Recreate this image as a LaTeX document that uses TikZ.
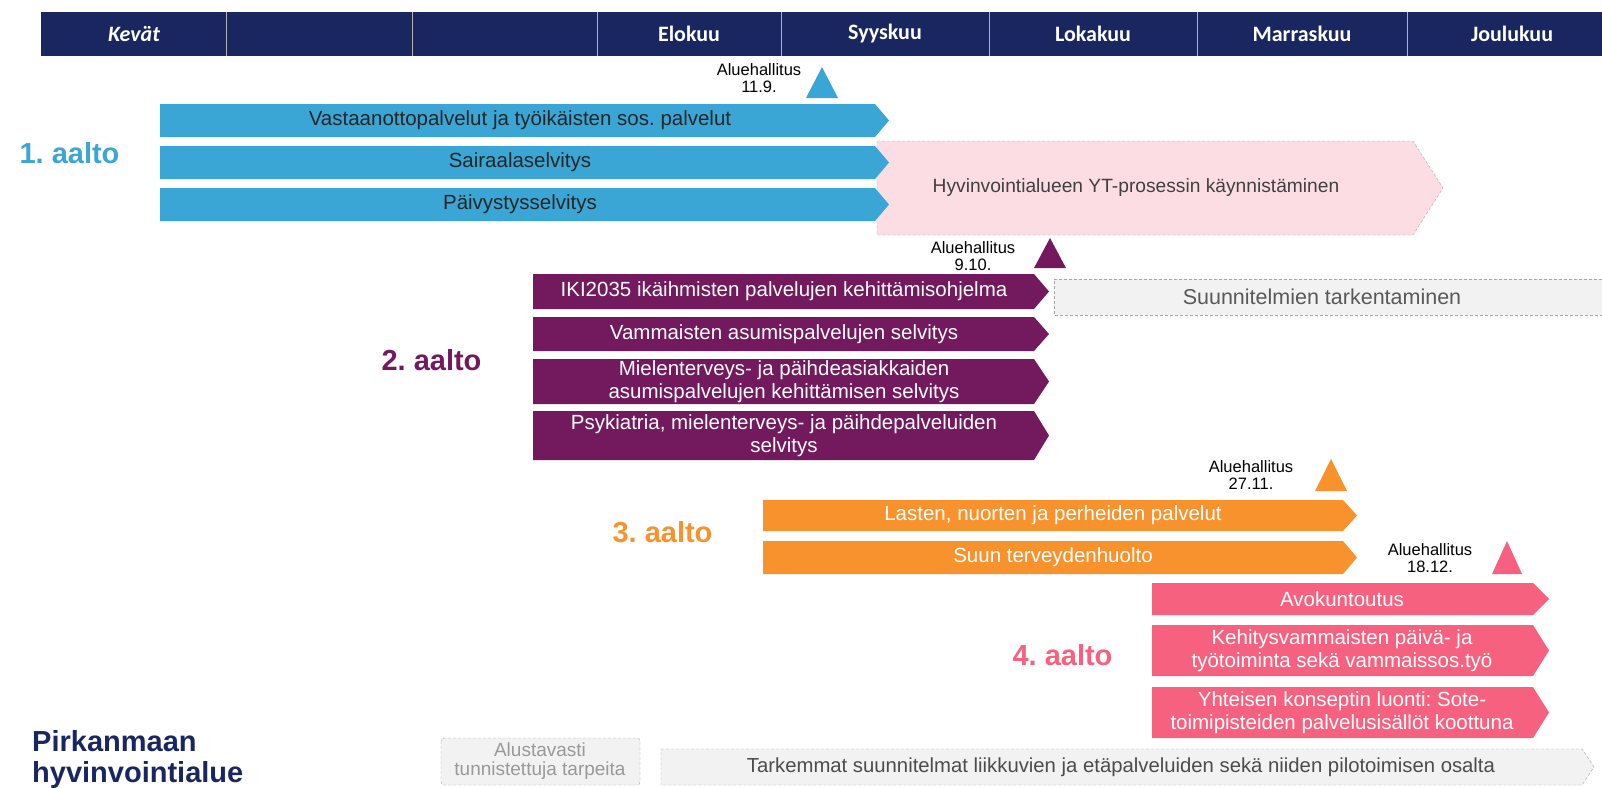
\documentclass[tikz,border=0pt]{standalone}
\usepackage{fontspec}
\setmainfont{Liberation Sans}[BoldFont={Liberation Sans Bold}]
\newfontfamily\headfont{Carlito}
\newfontfamily\heavyfont{Liberation Sans Bold}
\usepackage{tikz}
\usetikzlibrary{positioning}

\definecolor{navy}{HTML}{1A2660}
\definecolor{aaltoA}{HTML}{3AA6D5}
\definecolor{aaltoB}{HTML}{73195E}
\definecolor{aaltoC}{HTML}{F8922C}
\definecolor{aaltoD}{HTML}{F5617F}
\definecolor{ytpink}{HTML}{FDDDE4}
\definecolor{planfill}{HTML}{F2F2F2}

\begin{document}
\frenchspacing
\begin{tikzpicture}[x=1pt, y=-1pt,
    head/.style={text=white, font=\headfont\bfseries\fontsize{22}{24}\selectfont},
    bartext/.style={text=white, align=center, font=\fontsize{20.5}{23}\selectfont},
    wave/.style={anchor=west, font=\heavyfont\fontsize{29}{33}\selectfont},
    board/.style={align=center, inner sep=0pt, font=\fontsize{16.5}{17}\selectfont},
    plan/.style={draw=gray!70, densely dashed, thin}]

    \useasboundingbox (0,0) rectangle (1602,787);

    % header with months
    \fill[navy] (41,12) rectangle (1602,56);
    \foreach \x in {226,412,597,781,989,1197,1407}
        \draw[gray!60, thin] (\x,12) -- (\x,56);
    \node[head, font=\headfont\bfseries\itshape\fontsize{22}{24}\selectfont] (kevat) at (134,34) {Kevät};
    \foreach \x/\m in {689/Elokuu, 885/Syyskuu, 1093/Lokakuu, 1302/Marraskuu, 1512/Joulukuu}
        \node[head] (\m) at (\x,34) {\m};

    % YT-process (behind the first wave)
    \filldraw[plan, fill=ytpink] (877,141) -- (1413,141) -- (1443,188) -- (1413,235) -- (877,235) -- cycle;
    \node[text=black!75, font=\fontsize{19.2}{22}\selectfont] (yt) at (1136,188) {Hyvinvointialueen YT-prosessin käynnistäminen};

    % 1. aalto
    \node[board] (ah1) at (759,78) {Aluehallitus\\11.9.};
    \fill[aaltoA] (806,98) -- (822,67) -- (838,98) -- cycle;
    \foreach \n/\ya/\yb/\txt in {1/104/137/{Vastaanottopalvelut ja työikäisten sos. palvelut},
                                 2/146/179/{Sairaalaselvitys},
                                 3/188/221/{Päivystysselvitys}}{
        \fill[aaltoA] (160,\ya) -- (875,\ya) -- (889,{(\ya+\yb)/2}) -- (875,\yb) -- (160,\yb) -- cycle;
        \node[bartext, text=black!85] (w1b\n) at (520,{(\ya+\yb)/2}) {\txt};
    }
    \node[wave, text=aaltoA] (w1) at (16,153) {1. aalto};

    % 2. aalto
    \node[board] (ah2) at (973,256) {Aluehallitus\\9.10.};
    \fill[aaltoB] (1034,268) -- (1050,238) -- (1066,268) -- cycle;
    \foreach \n/\ya/\yb/\txt in {1/274/309/{IKI2035 ikäihmisten palvelujen kehittämisohjelma},
                                 2/317/351/{Vammaisten asumispalvelujen selvitys},
                                 3/359/404/{Mielenterveys- ja päihdeasiakkaiden\\asumispalvelujen kehittämisen selvitys},
                                 4/411/460/{Psykiatria, mielenterveys- ja päihdepalveluiden\\selvitys}}{
        \fill[aaltoB] (533,\ya) -- (1034,\ya) -- (1049,{(\ya+\yb)/2}) -- (1034,\yb) -- (533,\yb) -- cycle;
        \node[bartext] (w2b\n) at (784,{(\ya+\yb)/2}) {\txt};
    }
    \node[wave, text=aaltoB] (w2) at (378,360) {2. aalto};

    % plans after the second wave
    \fill[planfill] (1054,279) rectangle (1602,315);
    \draw[plan] (1602,279) -- (1054,279) -- (1054,315) -- (1602,315);
    \node[text=black!65, font=\fontsize{21.5}{24}\selectfont] (tark) at (1322,297) {Suunnitelmien tarkentaminen};

    % 3. aalto
    \node[board] (ah3) at (1251,475) {Aluehallitus\\27.11.};
    \fill[aaltoC] (1315,491) -- (1331,459) -- (1347,491) -- cycle;
    \foreach \n/\ya/\yb/\txt in {1/500/531/{Lasten, nuorten ja perheiden palvelut},
                                 2/541/574/{Suun terveydenhuolto}}{
        \fill[aaltoC] (763,\ya) -- (1343,\ya) -- (1357,{(\ya+\yb)/2}) -- (1343,\yb) -- (763,\yb) -- cycle;
        \node[bartext] (w3b\n) at (1053,{(\ya+\yb)/2}) {\txt};
    }
    \node[wave, text=aaltoC] (w3) at (609,532) {3. aalto};

    % 4. aalto
    \node[board] (ah4) at (1430,558) {Aluehallitus\\18.12.};
    \fill[aaltoD] (1492,574) -- (1507,541) -- (1522,574) -- cycle;
    \foreach \n/\ya/\yb/\txt in {1/583/615/{Avokuntoutus},
                                 2/625/676/{Kehitysvammaisten päivä- ja\\työtoiminta sekä vammaissos.työ},
                                 3/687/738/{Yhteisen konseptin luonti: Sote-\\toimipisteiden palvelusisällöt koottuna}}{
        \fill[aaltoD] (1152,\ya) -- (1533,\ya) -- (1549,{(\ya+\yb)/2}) -- (1533,\yb) -- (1152,\yb) -- cycle;
        \node[bartext] (w4b\n) at (1342,{(\ya+\yb)/2}) {\txt};
    }
    \node[wave, text=aaltoD] (w4) at (1009,655) {4. aalto};

    % bottom row
    \filldraw[plan, fill=planfill, rounded corners=3pt] (441,738) rectangle (640,785);
    \node[align=center, text=black!40, font=\fontsize{19}{19.5}\selectfont] (alust) at (540,761) {Alustavasti\\tunnistettuja tarpeita};
    \filldraw[plan, fill=planfill] (661,749) -- (1582,749) -- (1594,767) -- (1582,785) -- (661,785) -- cycle;
    \node[text=black!70, font=\fontsize{20.3}{23}\selectfont] (liikku) at (1121,767) {Tarkemmat suunnitelmat liikkuvien ja etäpalveluiden sekä niiden pilotoimisen osalta};

    % logo text
    \node[anchor=north west, inner sep=0pt, align=left, text=navy, font=\heavyfont\fontsize{29}{31}\selectfont] (logo) at (32,730) {Pirkanmaan\\hyvinvointialue};
\end{tikzpicture}
\end{document}
